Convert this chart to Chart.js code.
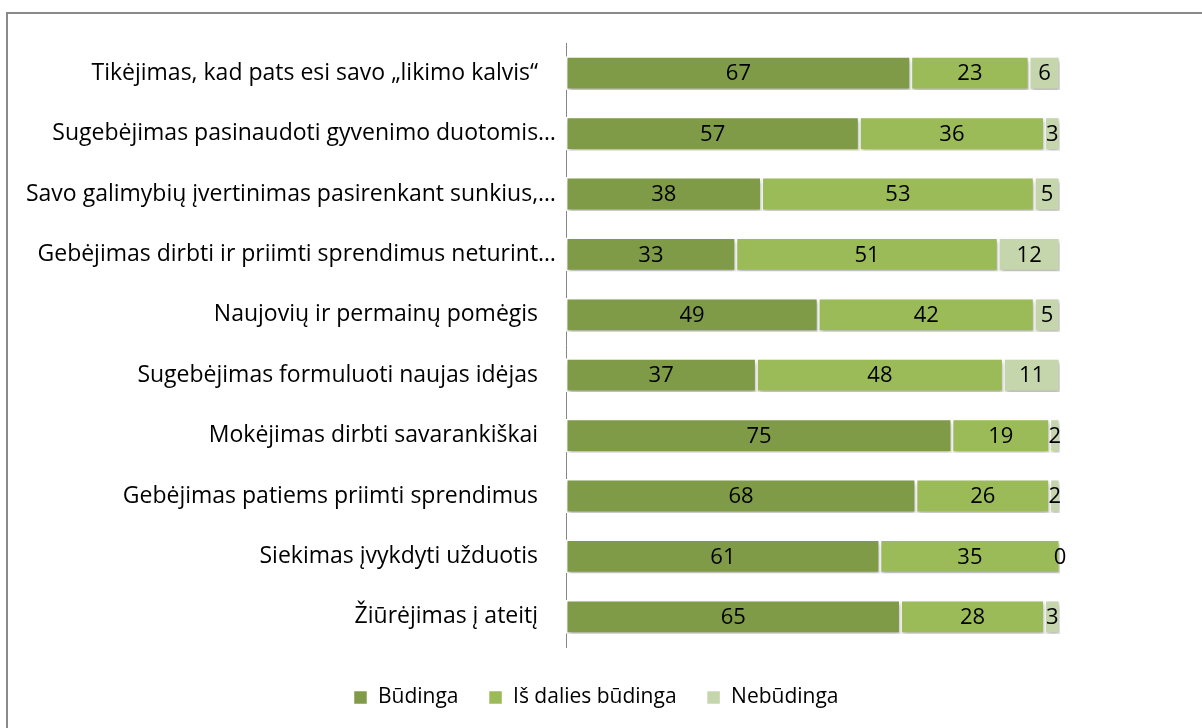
<!DOCTYPE html>
<html>
<head>
<meta charset="utf-8">
<script src="https://cdn.jsdelivr.net/npm/chart.js@4"></script>
<style>
  html, body { margin: 0; padding: 0; background: #fff; }
  #wrap { position: relative; width: 1202px; height: 728px; overflow: hidden; }
  #frame { position: absolute; left: 6px; top: 12px; width: 1220px; height: 740px; border: 2px solid #8a8a8a; box-sizing: border-box; }
  #c { position: absolute; left: 0; top: 0; }
</style>
</head>
<body>
<div id="wrap">
  <div id="frame"></div>
  <canvas id="c" width="1202" height="728"></canvas>
</div>
<script>
const categories = [
  'Tikėjimas, kad pats esi savo „likimo kalvis“   ',
  'Sugebėjimas pasinaudoti gyvenimo duotomis…',
  'Savo galimybių įvertinimas pasirenkant sunkius,…',
  'Gebėjimas dirbti ir priimti sprendimus neturint…',
  'Naujovių ir permainų pomėgis   ',
  'Sugebėjimas formuluoti naujas idėjas   ',
  'Mokėjimas dirbti savarankiškai   ',
  'Gebėjimas patiems priimti sprendimus   ',
  'Siekimas įvykdyti užduotis   ',
  'Žiūrėjimas į ateitį   '
];
const seriesNames = ['Būdinga', 'Iš dalies būdinga', 'Nebūdinga'];
const budinga = [67, 57, 38, 33, 49, 37, 75, 68, 61, 65];
const isDalies = [23, 36, 53, 51, 42, 48, 19, 26, 35, 28];
const nebudinga = [6, 3, 5, 12, 5, 11, 2, 2, 0, 3];
const colors = ['#7f9b48', '#9bbb59', '#c5d6ac'];

const totals = budinga.map((v, i) => v + isDalies[i] + nebudinga[i]);
const xMax = Math.max(...totals);

const FONT = '"Open Sans", Lato, sans-serif';
const LABEL_SIZE = 23;
const VALUE_SIZE = 22;
const FSIZE = 21;

const shadowPlugin = {
  id: 'barShadow',
  beforeDatasetsDraw(chart) {
    const ctx = chart.ctx;
    ctx.save();
    ctx.shadowColor = 'rgba(0,0,0,0.28)';
    ctx.shadowBlur = 4;
    ctx.shadowOffsetX = 1;
    ctx.shadowOffsetY = 3;
  },
  afterDatasetsDraw(chart) {
    chart.ctx.restore();
  }
};

const labelPlugin = {
  id: 'segLabels',
  afterDatasetsDraw(chart) {
    const ctx = chart.ctx;
    ctx.save();
    ctx.shadowColor = 'transparent';
    ctx.font = VALUE_SIZE + 'px ' + FONT;
    ctx.fillStyle = '#000';
    ctx.textAlign = 'center';
    ctx.textBaseline = 'middle';
    chart.data.datasets.forEach((ds, di) => {
      const meta = chart.getDatasetMeta(di);
      meta.data.forEach((bar, i) => {
        const cx = (bar.x + bar.base) / 2;
        ctx.fillText(String(ds.data[i]), cx, bar.y + 1);
      });
    });
    ctx.restore();
  }
};

new Chart(document.getElementById('c'), {
  type: 'bar',
  data: {
    labels: categories,
    datasets: [
      { label: seriesNames[0], data: budinga, backgroundColor: colors[0] },
      { label: seriesNames[1], data: isDalies, backgroundColor: colors[1] },
      { label: seriesNames[2], data: nebudinga, backgroundColor: colors[2] }
    ].map(d => Object.assign(d, {
      borderColor: '#ffffff',
      borderWidth: 1.5,
      borderSkipped: false,
      barPercentage: 0.56,
      categoryPercentage: 1.0
    }))
  },
  options: {
    indexAxis: 'y',
    responsive: false,
    animation: false,
    devicePixelRatio: 1,
    layout: { padding: { top: 43, right: 10, bottom: 10, left: 0 } },
    scales: {
      x: {
        stacked: true,
        min: 0,
        max: xMax,
        grid: { display: false },
        border: { display: false },
        ticks: { display: false },
        afterFit(s) { s.height = 10; }
      },
      y: {
        stacked: true,
        grid: { display: false, drawTicks: false },
        border: { display: true, color: '#868686', width: 1 },
        ticks: { color: '#000', padding: 10, font: { family: FONT, size: LABEL_SIZE } },
        afterFit(s) { s.width = 566; }
      },
      yRight: {
        type: 'linear',
        position: 'right',
        display: true,
        grid: { display: false },
        border: { display: false },
        ticks: { display: false },
        afterFit(s) { s.width = 132; }
      }
    },
    plugins: {
      legend: {
        position: 'bottom',
        labels: {
          boxWidth: 14,
          boxHeight: 14,
          padding: 30,
          color: '#000',
          font: { family: FONT, size: FSIZE }
        }
      },
      tooltip: { enabled: false }
    }
  },
  plugins: [shadowPlugin, labelPlugin]
});
</script>
</body>
</html>
